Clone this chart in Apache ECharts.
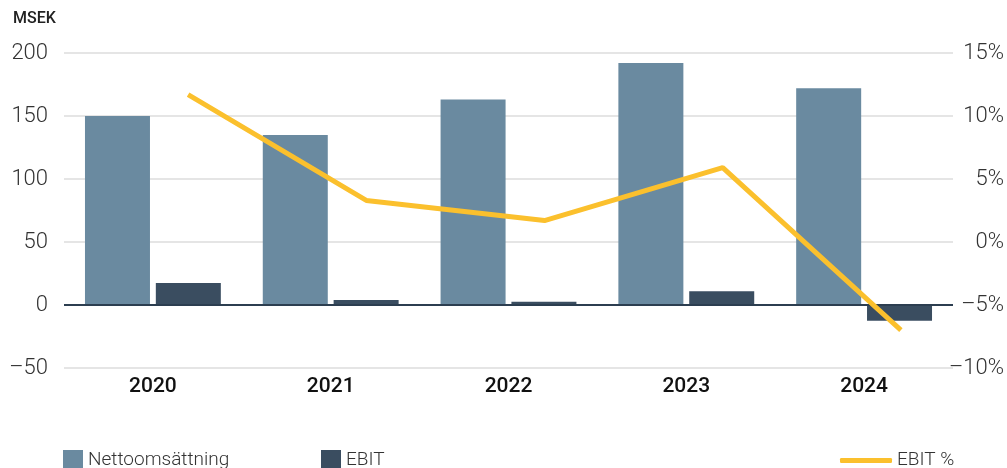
<!DOCTYPE html>
<html>
<head>
<meta charset="utf-8">
<script src="https://cdn.jsdelivr.net/npm/echarts@6/dist/echarts.min.js"></script>
<style>
  html, body { margin: 0; padding: 0; background: #fff; }
  #chart { width: 1007px; height: 468px; }
</style>
</head>
<body>
<div id="chart"></div>
<script>
// data
const years = ['2020', '2021', '2022', '2023', '2024']
const nettoomsattning = [150, 135, 163, 192, 172]
const ebit = [17.5, 4, 2.5, 11, -12.5]
const ebitPct = [11.7, 3.3, 1.7, 5.9, -7.0]
const leftTicks = { min: -50, max: 200, step: 50 }
const rightTicks = { min: -10, max: 15, step: 5 }

const font = '"Roboto", sans-serif'
const dash = v => String(v).replace('-', '–')

const chart = echarts.init(document.getElementById('chart'))

const legendBase = {
  bottom: -7,
  itemGap: 10,
  textStyle: { fontFamily: font, fontSize: 19, color: '#333', fontWeight: 300 },
  selectedMode: false
}

chart.setOption({
  animation: false,
  color: ['#6a8aa0', '#3a4d60', '#fbc02d'],
  title: {
    text: 'MSEK', left: 8, top: 6,
    textStyle: { fontFamily: font, fontSize: 16, fontWeight: 500, color: '#222' }
  },
  legend: [
    Object.assign({}, legendBase, { data: ['Nettoomsättning'], left: 58, itemWidth: 20, itemHeight: 20, icon: 'rect' }),
    Object.assign({}, legendBase, { data: ['EBIT'], left: 316, itemWidth: 20, itemHeight: 20, icon: 'rect' }),
    Object.assign({}, legendBase, { data: ['EBIT %'], left: 835, itemWidth: 52, itemHeight: 5, icon: 'roundRect' })
  ],
  grid: [
    { left: 64, right: 52, top: 53, bottom: 100 },
    { left: 99, right: 17, top: 53, bottom: 100 }
  ],
  xAxis: [
    {
      type: 'category', data: years, gridIndex: 0,
      axisLine: { show: false }, axisTick: { show: false },
      axisLabel: { fontFamily: font, fontSize: 21, color: '#111', fontWeight: 500, margin: 8 }
    },
    {
      type: 'category', data: years, gridIndex: 1, show: false
    }
  ],
  yAxis: [
    {
      type: 'value', gridIndex: 0, position: 'left',
      min: leftTicks.min, max: leftTicks.max, interval: leftTicks.step,
      axisLine: { show: false }, axisTick: { show: false },
      axisLabel: { fontFamily: font, fontSize: 22, color: '#333', fontWeight: 300, margin: 16, formatter: dash },
      splitLine: { lineStyle: { color: '#dcdcdc', width: 1.5 } }
    },
    {
      type: 'value', gridIndex: 0, position: 'right',
      min: rightTicks.min, max: rightTicks.max, interval: rightTicks.step,
      axisLine: { show: false }, axisTick: { show: false },
      axisLabel: { fontFamily: font, fontSize: 22, color: '#333', fontWeight: 300, margin: 51, align: 'right',
        formatter: v => dash(v) + '%' },
      splitLine: { show: false }
    },
    {
      type: 'value', gridIndex: 1, show: false,
      min: rightTicks.min, max: rightTicks.max, interval: rightTicks.step,
      splitLine: { show: false }
    }
  ],
  series: [
    {
      name: 'Nettoomsättning', type: 'bar', xAxisIndex: 0, yAxisIndex: 0,
      data: nettoomsattning, barWidth: 65, barGap: '9%',
      markLine: {
        silent: true, symbol: 'none', label: { show: false },
        lineStyle: { color: '#2c3e50', width: 2, type: 'solid' },
        data: [{ yAxis: 0 }]
      }
    },
    {
      name: 'EBIT', type: 'bar', xAxisIndex: 0, yAxisIndex: 0,
      data: ebit, barWidth: 65
    },
    {
      name: 'EBIT %', type: 'line', xAxisIndex: 1, yAxisIndex: 2,
      data: ebitPct, showSymbol: false, symbol: 'none',
      lineStyle: { width: 5, color: '#fbc02d' }, z: 5
    }
  ]
})
</script>
</body>
</html>
